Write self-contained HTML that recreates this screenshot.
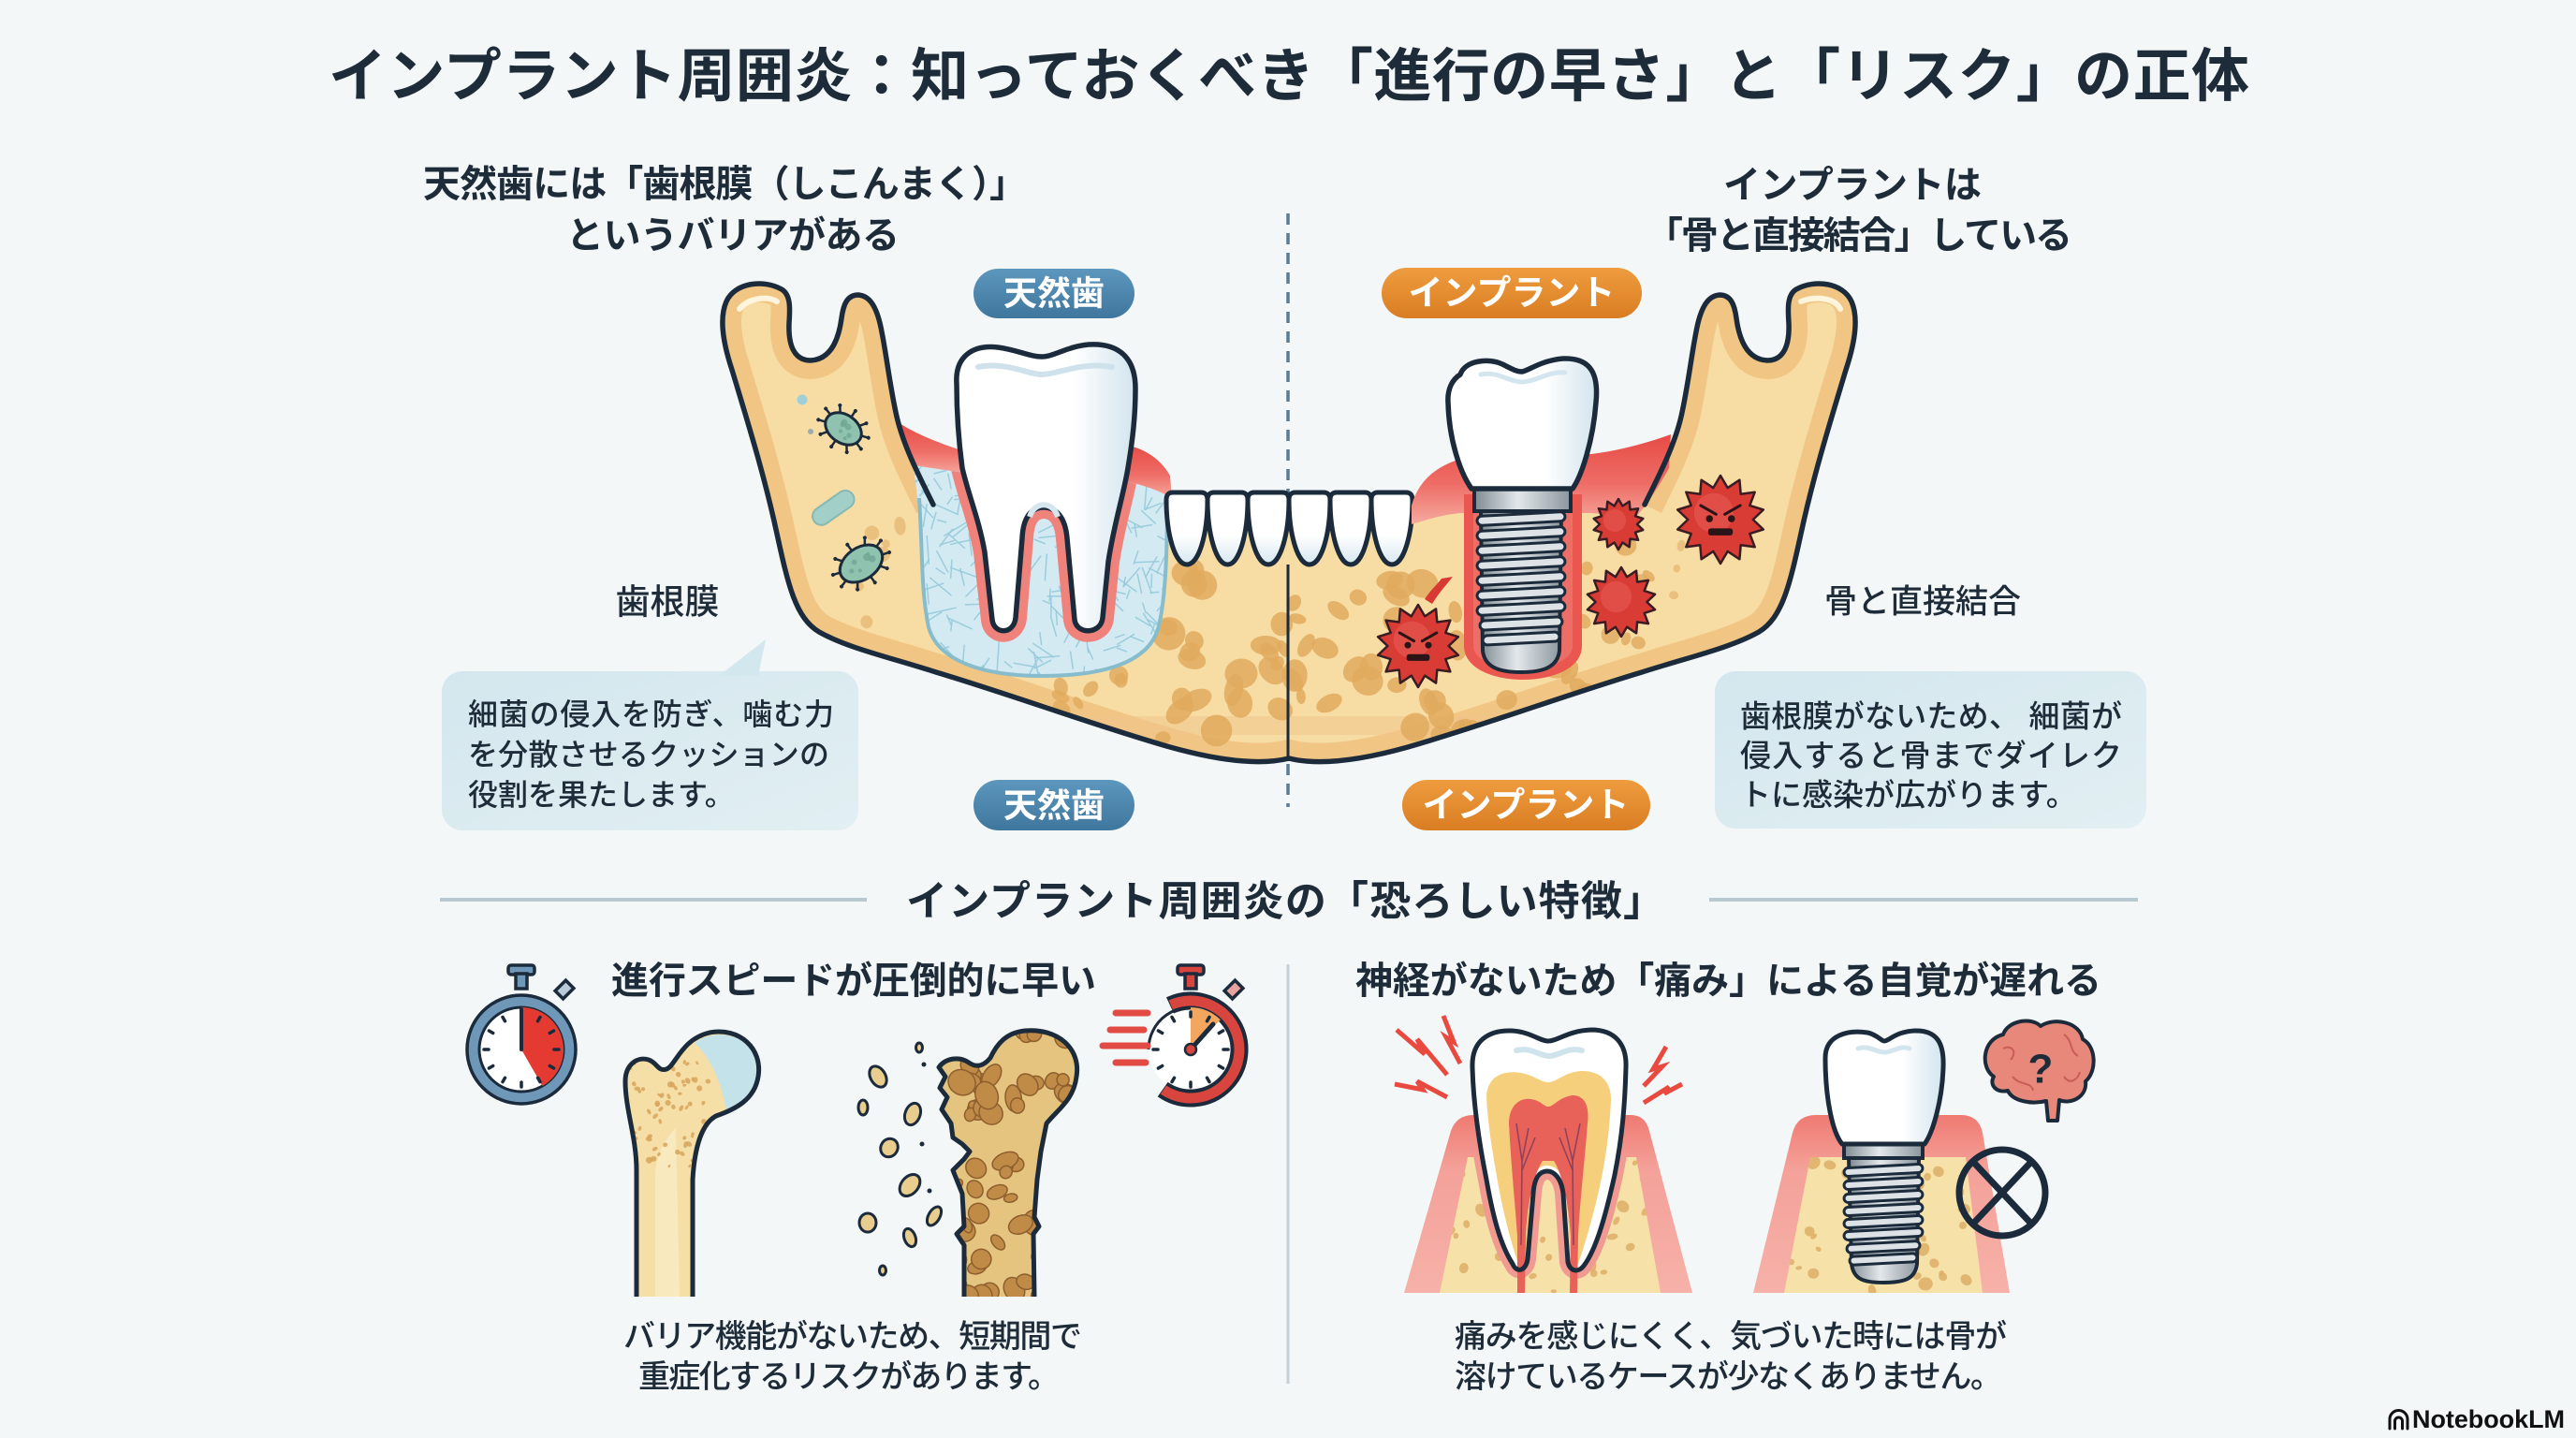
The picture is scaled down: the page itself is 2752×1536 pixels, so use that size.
<!DOCTYPE html>
<html><head><meta charset="utf-8">
<style>
html,body{margin:0;padding:0;background:#f3f7f8;}
svg{display:block;}
text{font-family:"Liberation Sans","Noto Sans CJK JP",sans-serif;fill:#1e2b38;}
</style></head><body>
<svg id="s" xmlns="http://www.w3.org/2000/svg" width="2752" height="1536" viewBox="0 0 2752 1536">
<defs>
<linearGradient id="pb" x1="0" y1="0" x2="0" y2="1"><stop offset="0" stop-color="#5d97bd"/><stop offset="1" stop-color="#3f769d"/></linearGradient>
<linearGradient id="po" x1="0" y1="0" x2="0" y2="1"><stop offset="0" stop-color="#ee9c3f"/><stop offset="1" stop-color="#da7d22"/></linearGradient>
<linearGradient id="cb" x1="0" y1="0" x2="1" y2="1"><stop offset="0" stop-color="#d3e7ee"/><stop offset="1" stop-color="#e2eff3"/></linearGradient>
<linearGradient id="tg" x1="0" y1="0" x2="1" y2="0"><stop offset="0" stop-color="#ffffff"/><stop offset="0.65" stop-color="#ffffff"/><stop offset="1" stop-color="#d3e4ee"/></linearGradient>
<linearGradient id="ft" x1="0" y1="0" x2="0" y2="1"><stop offset="0" stop-color="#ffffff"/><stop offset="0.6" stop-color="#ffffff"/><stop offset="1" stop-color="#d6e7f0"/></linearGradient>
<linearGradient id="metal" x1="0" y1="0" x2="1" y2="0"><stop offset="0" stop-color="#7f8a92"/><stop offset="0.45" stop-color="#e3e8eb"/><stop offset="1" stop-color="#8a959c"/></linearGradient>
<linearGradient id="gum" x1="0" y1="0" x2="0" y2="1"><stop offset="0" stop-color="#e84b46"/><stop offset="0.55" stop-color="#ee6d66"/><stop offset="1" stop-color="#f6aaa0"/></linearGradient>
<linearGradient id="pink" x1="0" y1="0" x2="0" y2="1"><stop offset="0" stop-color="#ef7a72"/><stop offset="0.3" stop-color="#f4a199"/><stop offset="1" stop-color="#f6b1a8"/></linearGradient>
<clipPath id="jawClip"><path d="M 997 539 C 980 505 965 475 958 445 C 950 410 946 370 940 345 C 935 325 928 316 917 315 C 905 315 901 325 899 340 C 896 362 888 384 866 385 C 848 385 842 368 843 345 C 844 330 845 315 835 309 C 815 298 785 302 776 322 C 768 340 773 368 782 395 C 797 445 816 505 830 570 C 842 625 850 660 875 675 C 905 692 950 702 1000 718 C 1080 742 1170 775 1250 798 C 1300 812 1345 818 1377 810 C 1409 818 1454 812 1504 798 C 1584 775 1674 742 1754 718 C 1804 702 1849 692 1879 675 C 1904 660 1912 625 1924 570 C 1938 505 1957 445 1972 395 C 1981 368 1986 340 1978 322 C 1969 302 1939 298 1919 309 C 1909 315 1910 330 1911 345 C 1912 368 1906 385 1888 385 C 1866 384 1858 362 1855 340 C 1853 325 1849 315 1837 315 C 1826 316 1819 325 1814 345 C 1808 370 1804 410 1796 445 C 1789 475 1774 505 1757 539 Z"/></clipPath>
<clipPath id="pdlClip"><path d="M 975 497 C 984 540 984 620 992 670 C 1002 706 1050 722 1113 722 C 1178 722 1226 708 1237 672 C 1246 640 1247 580 1247 528 C 1235 522 1220 518 1205 515 L 1030 505 Z"/></clipPath>
<clipPath id="natClip"><path d="M 1538 1381 L 1568 1236 L 1748 1236 L 1774 1381 Z"/></clipPath>
<clipPath id="impClip"><path d="M 1906 1381 L 1934 1236 L 2100 1236 L 2118 1381 Z"/></clipPath>
<clipPath id="femLClip"><path d="M 680 1385 L 680 1250 C 680 1215 668 1185 668 1155 C 668 1138 680 1128 693 1132 C 702 1135 703 1145 712 1142 C 722 1138 728 1110 758 1103 C 790 1097 815 1120 810 1150 C 806 1175 785 1185 765 1192 C 750 1200 742 1225 740 1260 L 740 1385 Z"/></clipPath>
<clipPath id="femRClip"><path d="M 1030 1385 L 1030 1330 L 1022 1318 L 1030 1310 L 1028 1275 L 1018 1250 L 1030 1238 L 1036 1230 L 1028 1222 L 1018 1215 L 1016 1200 L 1006 1185 L 1012 1172 L 1004 1162 L 1010 1150 L 1003 1140 C 1010 1130 1025 1128 1035 1135 C 1042 1140 1050 1140 1058 1130 C 1065 1115 1075 1103 1095 1101 C 1130 1098 1155 1120 1150 1150 C 1147 1175 1130 1185 1118 1200 L 1112 1230 L 1108 1260 L 1105 1300 L 1110 1310 L 1104 1318 L 1105 1385 Z"/></clipPath>
</defs>

<rect width="2752" height="1536" fill="#f3f7f8"/>

<!-- Title -->
<text x="351" y="82" font-size="62" font-weight="700" dominant-baseline="central" textLength="2052" lengthAdjust="spacing">インプラント周囲炎：知っておくべき「進行の早さ」と「リスク」の正体</text>

<!-- Headings -->
<text x="452" y="197" font-size="40" font-weight="700" dominant-baseline="central" textLength="645" lengthAdjust="spacing">天然歯には「歯根膜（しこんまく）」</text>
<text x="605" y="252" font-size="40" font-weight="700" dominant-baseline="central" textLength="356" lengthAdjust="spacing">というバリアがある</text>
<text x="1841" y="198" font-size="40" font-weight="700" dominant-baseline="central" textLength="276" lengthAdjust="spacing">インプラントは</text>
<text x="1758" y="252" font-size="40" font-weight="700" dominant-baseline="central" textLength="456" lengthAdjust="spacing">「骨と直接結合」している</text>

<!-- Dashed divider -->
<line x1="1376" y1="228" x2="1376" y2="862" stroke="#5b7c96" stroke-width="3.5" stroke-dasharray="12 9"/>

<!-- Pills -->
<rect x="1040" y="287" width="172" height="53" rx="26.5" fill="url(#pb)"/>
<text x="1126" y="313" font-size="36" font-weight="700" text-anchor="middle" dominant-baseline="central" style="fill:#fff">天然歯</text>
<rect x="1476" y="286" width="278" height="54" rx="27" fill="url(#po)"/>
<text x="1615" y="313" font-size="37" font-weight="700" text-anchor="middle" dominant-baseline="central" style="fill:#fff">インプラント</text>
<rect x="1040" y="833" width="172" height="54" rx="27" fill="url(#pb)"/>
<text x="1126" y="860" font-size="36" font-weight="700" text-anchor="middle" dominant-baseline="central" style="fill:#fff">天然歯</text>
<rect x="1498" y="833" width="265" height="54" rx="27" fill="url(#po)"/>
<text x="1630" y="860" font-size="37" font-weight="700" text-anchor="middle" dominant-baseline="central" style="fill:#fff">インプラント</text>

<!-- JAW -->
<g id="jaw">
  <path clip-path="url(#jawClip)" d="M0 0H2752V1536H0Z" fill="#f7dca3"/>
  <g clip-path="url(#jawClip)">
    <path d="M 997 539 C 980 505 965 475 958 445 C 950 410 946 370 940 345 C 935 325 928 316 917 315 C 905 315 901 325 899 340 C 896 362 888 384 866 385 C 848 385 842 368 843 345 C 844 330 845 315 835 309 C 815 298 785 302 776 322 C 768 340 773 368 782 395 C 797 445 816 505 830 570 C 842 625 850 660 875 675 C 905 692 950 702 1000 718 C 1080 742 1170 775 1250 798 C 1300 812 1345 818 1377 810 C 1409 818 1454 812 1504 798 C 1584 775 1674 742 1754 718 C 1804 702 1849 692 1879 675 C 1904 660 1912 625 1924 570 C 1938 505 1957 445 1972 395 C 1981 368 1986 340 1978 322 C 1969 302 1939 298 1919 309 C 1909 315 1910 330 1911 345 C 1912 368 1906 385 1888 385 C 1866 384 1858 362 1855 340 C 1853 325 1849 315 1837 315 C 1826 316 1819 325 1814 345 C 1808 370 1804 410 1796 445 C 1789 475 1774 505 1757 539" fill="none" stroke="#efbf79" stroke-width="40" opacity="0.75"/>
    <rect x="1000" y="765" width="760" height="20" fill="#efc48a" opacity="0.5"/>
    <g id="jawHoles"></g>
  </g>
  <circle cx="857" cy="427" r="5.5" fill="#9fd0da"/>
  <circle cx="866" cy="461" r="3" fill="#98aeb0"/>

  <path d="M 958 450 C 975 462 1000 472 1024 480 L 1030 508 C 1005 502 985 498 974 497 Z" fill="url(#gum)"/>
  <path d="M 975 497 C 984 540 984 620 992 670 C 1002 706 1050 722 1113 722 C 1178 722 1226 708 1237 672 C 1246 640 1247 580 1247 528 C 1235 522 1220 518 1205 515 L 1030 505 Z" fill="#d3eaf2"/>
  <g id="pdlHatch" clip-path="url(#pdlClip)"></g>
  <path d="M 982 532 C 986 600 984 630 992 670 C 1002 706 1050 722 1113 722 C 1178 722 1226 708 1237 672 C 1246 640 1247 580 1247 528" fill="none" stroke="#86bccb" stroke-width="4"/>
  <path d="M 1205 476 C 1222 479 1240 490 1250 508 L 1252 532 C 1238 524 1222 518 1205 515 Z" fill="url(#gum)"/>
  <g clip-path="url(#pdlClip)">
    <path d="M 1022 410 C 1020 380 1040 368 1066 371 C 1088 374 1100 381 1113 381 C 1126 381 1140 370 1163 368 C 1195 366 1213 382 1213 415 C 1213 445 1210 470 1205 500 C 1200 530 1190 560 1184 600 L 1178 660 C 1176 678 1150 678 1148 662 L 1140 575 C 1138 552 1128 542 1115 542 C 1102 542 1093 552 1092 575 L 1085 660 C 1083 678 1062 678 1060 662 L 1052 590 C 1046 555 1035 530 1028 500 C 1024 470 1022 440 1022 410 Z" fill="#e9f4f8" stroke="#ef837c" stroke-width="24"/>
  </g>
  <path d="M 1022 410 C 1020 380 1040 368 1066 371 C 1088 374 1100 381 1113 381 C 1126 381 1140 370 1163 368 C 1195 366 1213 382 1213 415 C 1213 445 1210 470 1205 500 C 1200 530 1190 560 1184 600 L 1178 660 C 1176 678 1150 678 1148 662 L 1140 575 C 1138 552 1128 542 1115 542 C 1102 542 1093 552 1092 575 L 1085 660 C 1083 678 1062 678 1060 662 L 1052 590 C 1046 555 1035 530 1028 500 C 1024 470 1022 440 1022 410 Z" fill="url(#tg)" stroke="#1c2b3b" stroke-width="5.5" stroke-linejoin="round"/>
  <path d="M 1045 392 C 1075 386 1098 400 1113 400 C 1130 400 1155 386 1188 392" fill="none" stroke="#cfe2ec" stroke-width="6" stroke-linecap="round"/>
  <path d="M 1100 552 C 1105 535 1125 535 1130 552" fill="none" stroke="#d5e6ee" stroke-width="6"/>

  <g fill="url(#ft)" stroke="#1c2b3b" stroke-width="5" stroke-linejoin="round">
    <path d="M 1253 526 H 1283 Q 1290 526 1290 534 C 1290 570 1281 603 1268 603 C 1255 603 1246 570 1246 534 Q 1246 526 1253 526 Z"/>
    <path d="M 1297 526 H 1326 Q 1333 526 1333 534 C 1333 570 1324 603 1311.5 603 C 1299 603 1290 570 1290 534 Q 1290 526 1297 526 Z"/>
    <path d="M 1340 526 H 1370 Q 1377 526 1377 534 C 1377 570 1368 603 1355 603 C 1342 603 1333 570 1333 534 Q 1333 526 1340 526 Z"/>
    <path d="M 1384 526 H 1414 Q 1421 526 1421 534 C 1421 570 1412 603 1399 603 C 1386 603 1377 570 1377 534 Q 1377 526 1384 526 Z"/>
    <path d="M 1428 526 H 1458 Q 1465 526 1465 534 C 1465 570 1456 603 1443 603 C 1430 603 1421 570 1421 534 Q 1421 526 1428 526 Z"/>
    <path d="M 1472 526 H 1502 Q 1509 526 1509 534 C 1509 570 1500 603 1487 603 C 1474 603 1465 570 1465 534 Q 1465 526 1472 526 Z"/>
  </g>
  <line x1="1376" y1="603" x2="1376" y2="812" stroke="#1c2b3b" stroke-width="3"/>

  <path d="M 1508 560 L 1508 540 C 1515 515 1532 500 1555 492 L 1700 485 C 1725 482 1755 475 1785 464 L 1783 500 C 1772 520 1760 538 1748 552 L 1700 548 L 1560 548 C 1540 550 1525 555 1508 560 Z" fill="url(#gum)"/>
  <path d="M 1564 528 L 1564 690 C 1564 738 1690 738 1690 690 L 1690 528 Z" fill="#ea5750"/>
  <path d="M 1574 540 L 1574 690 C 1574 722 1680 722 1680 690 L 1680 540 Z" fill="#ef7d74" opacity="0.6"/>
  <path d="M 1582 545 L 1668 545 L 1666 695 C 1664 712 1650 718 1625 718 C 1600 718 1586 712 1584 695 Z" fill="url(#metal)" stroke="#1c2b3b" stroke-width="4"/>
  <g id="threads1" fill="#dce2e6" stroke="#1c2b3b" stroke-width="3"></g>
  <rect x="1575" y="521" width="103" height="25" fill="url(#metal)" stroke="#1c2b3b" stroke-width="4"/>
  <path d="M 1560 400 C 1565 385 1590 382 1605 389 C 1615 394 1620 397 1626 397 C 1633 396 1646 385 1670 383 C 1700 382 1708 400 1705 430 C 1702 470 1690 508 1680 522 L 1572 522 C 1560 505 1548 470 1547 430 C 1546 415 1552 405 1560 400 Z" fill="url(#tg)" stroke="#1c2b3b" stroke-width="5.5" stroke-linejoin="round"/>
  <path d="M 1582 400 C 1600 396 1612 408 1626 408 C 1640 408 1655 396 1672 398" fill="none" stroke="#d3e5ee" stroke-width="5" stroke-linecap="round"/>

  <g id="stars"></g>
  <path d="M 1522 640 C 1530 628 1535 625 1540 618 L 1552 616 C 1545 625 1538 632 1530 645 Z" fill="#d83a33"/>
  <g id="green"></g>
  <rect x="865" y="533" width="50" height="19" rx="9.5" fill="#a3cfc9" stroke="#86b9b4" stroke-width="2" transform="rotate(-35 890 542)"/>

  <path d="M 997 539 C 980 505 965 475 958 445 C 950 410 946 370 940 345 C 935 325 928 316 917 315 C 905 315 901 325 899 340 C 896 362 888 384 866 385 C 848 385 842 368 843 345 C 844 330 845 315 835 309 C 815 298 785 302 776 322 C 768 340 773 368 782 395 C 797 445 816 505 830 570 C 842 625 850 660 875 675 C 905 692 950 702 1000 718 C 1080 742 1170 775 1250 798 C 1300 812 1345 818 1377 810 C 1409 818 1454 812 1504 798 C 1584 775 1674 742 1754 718 C 1804 702 1849 692 1879 675 C 1904 660 1912 625 1924 570 C 1938 505 1957 445 1972 395 C 1981 368 1986 340 1978 322 C 1969 302 1939 298 1919 309 C 1909 315 1910 330 1911 345 C 1912 368 1906 385 1888 385 C 1866 384 1858 362 1855 340 C 1853 325 1849 315 1837 315 C 1826 316 1819 325 1814 345 C 1808 370 1804 410 1796 445 C 1789 475 1774 505 1757 539" fill="none" stroke="#1c2b3b" stroke-width="5.5" stroke-linecap="round" stroke-linejoin="round"/>
  <path d="M 790 330 C 800 318 820 316 830 322" fill="none" stroke="#fff4dc" stroke-width="6" stroke-linecap="round"/>
  <path d="M 1924 322 C 1940 316 1960 318 1966 330" fill="none" stroke="#fff4dc" stroke-width="6" stroke-linecap="round"/>
</g>

<!-- Labels -->
<text x="713" y="643" font-size="37" font-weight="500" text-anchor="middle" dominant-baseline="central">歯根膜</text>
<text x="2054" y="643" font-size="35" font-weight="500" text-anchor="middle" dominant-baseline="central">骨と直接結合</text>

<!-- Callouts -->
<rect x="472" y="717" width="445" height="170" rx="22" fill="url(#cb)"/>
<polygon points="768,722 810,722 818,683" fill="#d3e7ee"/>
<text x="500" y="763" font-size="32" font-weight="500" dominant-baseline="central" textLength="391" lengthAdjust="spacing">細菌の侵入を防ぎ、噛む力</text>
<text x="500" y="806" font-size="32" font-weight="500" dominant-baseline="central" textLength="386" lengthAdjust="spacing">を分散させるクッションの</text>
<text x="500" y="849" font-size="32" font-weight="500" dominant-baseline="central">役割を果たします。</text>

<rect x="1832" y="717" width="461" height="168" rx="22" fill="url(#cb)"/>
<text x="1859" y="765" font-size="33" font-weight="500" dominant-baseline="central" textLength="408" lengthAdjust="spacing">歯根膜がないため、 細菌が</text>
<text x="1859" y="807" font-size="33" font-weight="500" dominant-baseline="central" textLength="408" lengthAdjust="spacing">侵入すると骨までダイレク</text>
<text x="1859" y="849" font-size="33" font-weight="500" dominant-baseline="central">トに感染が広がります。</text>

<!-- Section divider -->
<line x1="470" y1="961" x2="926" y2="961" stroke="#b9c9d1" stroke-width="4"/>
<line x1="1826" y1="961" x2="2284" y2="961" stroke="#b9c9d1" stroke-width="4"/>
<text x="968" y="963" font-size="44" font-weight="700" dominant-baseline="central" textLength="810" lengthAdjust="spacing">インプラント周囲炎の「恐ろしい特徴」</text>
<line x1="1376" y1="1030" x2="1376" y2="1478" stroke="#c5d0d6" stroke-width="3"/>

<!-- Sub headings -->
<text x="653" y="1048" font-size="40" font-weight="700" dominant-baseline="central" textLength="518" lengthAdjust="spacing">進行スピードが圧倒的に早い</text>
<text x="1448" y="1048" font-size="40" font-weight="700" dominant-baseline="central" textLength="797" lengthAdjust="spacing">神経がないため「痛み」による自覚が遅れる</text>

<!-- Left stopwatch -->
<g stroke="#1c2b3b" stroke-width="3.5">
  <rect x="543" y="1031" width="28" height="10" rx="3" fill="#6f98b8"/>
  <rect x="551" y="1040" width="12" height="16" fill="#6f98b8"/>
  <rect x="597" y="1049" width="12" height="16" fill="#b9cbd8" transform="rotate(45 603 1057)"/>
  <circle cx="557" cy="1121" r="58" fill="#6f98b8"/>
  <circle cx="557" cy="1121" r="45" fill="#fff" stroke-width="3"/>
</g>
<path d="M 557 1121 L 557 1076 A 45 45 0 0 1 579.5 1160 Z" fill="#e43a31"/>
<g id="ticksL" stroke="#1c2b3b" stroke-width="3.5" stroke-linecap="round"></g>
<line x1="557" y1="1121" x2="557" y2="1078" stroke="#1c2b3b" stroke-width="4" stroke-linecap="round"/>

<!-- Right stopwatch -->
<g stroke="#1c2b3b" stroke-width="3.5">
  <rect x="1258" y="1031" width="28" height="10" rx="3" fill="#d8453e"/>
  <rect x="1266" y="1040" width="12" height="16" fill="#d8453e"/>
  <rect x="1312" y="1049" width="12" height="16" fill="#e9a39e" transform="rotate(45 1318 1057)"/>
</g>
<circle cx="1272" cy="1121" r="45" fill="#fff"/>
<path id="arcR" d="" fill="none" stroke="#1c2b3b" stroke-width="19" stroke-linecap="butt"/>
<path id="arcR2" d="" fill="none" stroke="#d8453e" stroke-width="11"/>
<path id="arcR3" d="" fill="none" stroke="#1c2b3b" stroke-width="3"/>
<path d="M 1272 1121 L 1272 1076 A 45 45 0 0 1 1303.8 1089.2 Z" fill="#f2a65e"/>
<g id="ticksR" stroke="#1c2b3b" stroke-width="3.5" stroke-linecap="round"></g>
<line x1="1272" y1="1121" x2="1296" y2="1094" stroke="#1c2b3b" stroke-width="5" stroke-linecap="round"/>
<circle cx="1272" cy="1121" r="6" fill="#d8453e" stroke="#1c2b3b" stroke-width="2.5"/>
<g stroke="#e14b43" stroke-width="7" stroke-linecap="round">
  <line x1="1192" y1="1082" x2="1226" y2="1082"/>
  <line x1="1186" y1="1100" x2="1222" y2="1100"/>
  <line x1="1178" y1="1117" x2="1226" y2="1117"/>
  <line x1="1192" y1="1135" x2="1224" y2="1135"/>
</g>

<!-- Left femur -->
<path d="M 680 1385 L 680 1250 C 680 1215 668 1185 668 1155 C 668 1138 680 1128 693 1132 C 702 1135 703 1145 712 1142 C 722 1138 728 1110 758 1103 C 790 1097 815 1120 810 1150 C 806 1175 785 1185 765 1192 C 750 1200 742 1225 740 1260 L 740 1385 Z" fill="#f5dfa7"/>
<path d="M 700 1385 L 700 1260 C 700 1230 712 1215 722 1205 L 726 1385 Z" fill="#f9ebc6" opacity="0.8"/>
<g id="femL" clip-path="url(#femLClip)"></g>
<path d="M 742 1114 C 762 1099 800 1102 810 1135 C 813 1160 800 1180 776 1188 C 772 1160 760 1130 742 1114 Z" fill="#c4e2ea"/>
<path d="M 680 1385 L 680 1250 C 680 1215 668 1185 668 1155 C 668 1138 680 1128 693 1132 C 702 1135 703 1145 712 1142 C 722 1138 728 1110 758 1103 C 790 1097 815 1120 810 1150 C 806 1175 785 1185 765 1192 C 750 1200 742 1225 740 1260 L 740 1385" fill="none" stroke="#1c2b3b" stroke-width="5" stroke-linejoin="round"/>

<!-- Right femur -->
<path d="M 1030 1385 L 1030 1330 L 1022 1318 L 1030 1310 L 1028 1275 L 1018 1250 L 1030 1238 L 1036 1230 L 1028 1222 L 1018 1215 L 1016 1200 L 1006 1185 L 1012 1172 L 1004 1162 L 1010 1150 L 1003 1140 C 1010 1130 1025 1128 1035 1135 C 1042 1140 1050 1140 1058 1130 C 1065 1115 1075 1103 1095 1101 C 1130 1098 1155 1120 1150 1150 C 1147 1175 1130 1185 1118 1200 L 1112 1230 L 1108 1260 L 1105 1300 L 1110 1310 L 1104 1318 L 1105 1385 Z" fill="#e4c47f"/>
<g id="femR" clip-path="url(#femRClip)"></g>
<path d="M 1030 1385 L 1030 1330 L 1022 1318 L 1030 1310 L 1028 1275 L 1018 1250 L 1030 1238 L 1036 1230 L 1028 1222 L 1018 1215 L 1016 1200 L 1006 1185 L 1012 1172 L 1004 1162 L 1010 1150 L 1003 1140 C 1010 1130 1025 1128 1035 1135 C 1042 1140 1050 1140 1058 1130 C 1065 1115 1075 1103 1095 1101 C 1130 1098 1155 1120 1150 1150 C 1147 1175 1130 1185 1118 1200 L 1112 1230 L 1108 1260 L 1105 1300 L 1110 1310 L 1104 1318 L 1105 1385" fill="none" stroke="#1c2b3b" stroke-width="5" stroke-linejoin="round"/>
<g fill="#e9cd8e" stroke="#1c2b3b" stroke-width="3">
  <ellipse cx="938" cy="1150" rx="8" ry="12" transform="rotate(-30 938 1150)"/>
  <ellipse cx="922" cy="1183" rx="5" ry="8"/>
  <ellipse cx="975" cy="1190" rx="8" ry="12" transform="rotate(20 975 1190)"/>
  <ellipse cx="950" cy="1226" rx="9" ry="10" transform="rotate(30 950 1226)"/>
  <ellipse cx="972" cy="1266" rx="9" ry="13" transform="rotate(40 972 1266)"/>
  <ellipse cx="927" cy="1306" rx="9" ry="10"/>
  <ellipse cx="998" cy="1299" rx="6" ry="11" transform="rotate(30 998 1299)"/>
  <ellipse cx="972" cy="1322" rx="6" ry="10" transform="rotate(-20 972 1322)"/>
  <ellipse cx="943" cy="1357" rx="3.5" ry="5"/>
  <ellipse cx="982" cy="1119" rx="3.5" ry="5"/>
</g>
<g fill="#1c2b3b"><circle cx="985" cy="1222" r="2.5"/><circle cx="993" cy="1272" r="2.5"/><circle cx="987" cy="1137" r="2.5"/></g>

<!-- Natural tooth scene -->
<path d="M 1500 1381 L 1550 1208 Q 1556 1191 1574 1191 L 1742 1191 Q 1758 1191 1762 1208 L 1808 1381 Z" fill="url(#pink)"/>
<path d="M 1538 1381 L 1568 1236 L 1748 1236 L 1774 1381 Z" fill="#f6e1a9"/>
<g id="natHoles" clip-path="url(#natClip)"></g>
<g clip-path="url(#natClip)">
<path d="M 1573 1140 C 1572 1112 1590 1100 1615 1101 C 1635 1102 1645 1112 1654 1112 C 1664 1112 1675 1101 1700 1100 C 1725 1100 1738 1115 1737 1140 C 1736 1180 1733 1215 1725 1255 C 1715 1300 1705 1335 1692 1352 C 1686 1360 1677 1358 1675 1348 L 1670 1275 C 1668 1258 1660 1251 1653 1251 C 1645 1251 1639 1258 1638 1275 L 1632 1345 C 1630 1358 1620 1360 1616 1350 C 1603 1330 1595 1300 1588 1260 C 1580 1220 1574 1180 1573 1140 Z" fill="none" stroke="#f19a92" stroke-width="18"/>
</g>
<path d="M 1573 1140 C 1572 1112 1590 1100 1615 1101 C 1635 1102 1645 1112 1654 1112 C 1664 1112 1675 1101 1700 1100 C 1725 1100 1738 1115 1737 1140 C 1736 1180 1733 1215 1725 1255 C 1715 1300 1705 1335 1692 1352 C 1686 1360 1677 1358 1675 1348 L 1670 1275 C 1668 1258 1660 1251 1653 1251 C 1645 1251 1639 1258 1638 1275 L 1632 1345 C 1630 1358 1620 1360 1616 1350 C 1603 1330 1595 1300 1588 1260 C 1580 1220 1574 1180 1573 1140 Z" fill="#ffffff"/>
<path d="M 1588 1170 C 1590 1148 1608 1143 1625 1146 C 1640 1149 1646 1156 1654 1156 C 1663 1156 1670 1146 1688 1144 C 1710 1143 1722 1156 1721 1176 C 1719 1220 1712 1260 1701 1300 C 1696 1320 1690 1338 1686 1350 L 1678 1350 L 1673 1275 C 1671 1254 1663 1245 1653 1245 C 1643 1245 1636 1254 1635 1275 L 1630 1350 L 1622 1350 C 1612 1320 1605 1290 1600 1262 C 1594 1228 1589 1198 1588 1170 Z" fill="#f6cf7c"/>
<path d="M 1612 1200 C 1612 1180 1625 1170 1640 1175 C 1648 1178 1650 1182 1654 1182 C 1660 1182 1665 1172 1680 1170 C 1695 1170 1698 1185 1696 1200 C 1693 1240 1688 1280 1686 1320 L 1685 1381 L 1677 1381 L 1678 1320 C 1676 1290 1670 1255 1660 1240 L 1648 1240 C 1638 1255 1631 1290 1630 1320 L 1629 1381 L 1621 1381 L 1621 1320 C 1618 1280 1614 1240 1612 1200 Z" fill="#e9625a"/>
<g stroke="#7a3a5a" stroke-width="1.6" fill="none" opacity="0.8">
  <path d="M 1625 1330 L 1626 1240 L 1620 1200 M 1626 1240 L 1633 1205 M 1626 1250 L 1640 1215"/>
  <path d="M 1681 1330 L 1680 1240 L 1688 1200 M 1680 1240 L 1672 1205 M 1680 1250 L 1666 1215"/>
</g>
<path d="M 1573 1140 C 1572 1112 1590 1100 1615 1101 C 1635 1102 1645 1112 1654 1112 C 1664 1112 1675 1101 1700 1100 C 1725 1100 1738 1115 1737 1140 C 1736 1180 1733 1215 1725 1255 C 1715 1300 1705 1335 1692 1352 C 1686 1360 1677 1358 1675 1348 L 1670 1275 C 1668 1258 1660 1251 1653 1251 C 1645 1251 1639 1258 1638 1275 L 1632 1345 C 1630 1358 1620 1360 1616 1350 C 1603 1330 1595 1300 1588 1260 C 1580 1220 1574 1180 1573 1140 Z" fill="none" stroke="#1c2b3b" stroke-width="5" stroke-linejoin="round"/>
<path d="M 1620 1122 C 1635 1118 1645 1128 1655 1128 C 1665 1128 1675 1118 1690 1122" fill="none" stroke="#cfe3ec" stroke-width="6" stroke-linecap="round"/>
<g fill="none" stroke="#e94a40" stroke-width="5" stroke-linejoin="miter">
  <polyline points="1492,1100 1522,1126 1514,1110 1546,1148"/>
  <polyline points="1542,1085 1553,1113 1545,1108 1560,1136"/>
  <polyline points="1490,1158 1520,1164 1514,1155 1546,1172"/>
  <polyline points="1780,1118 1766,1142 1776,1139 1756,1160"/>
  <polyline points="1797,1158 1778,1168 1783,1161 1756,1178"/>
</g>

<!-- Implant scene -->
<path d="M 1873 1381 L 1915 1210 Q 1920 1191 1940 1191 L 2095 1191 Q 2114 1191 2118 1210 L 2147 1381 Z" fill="url(#pink)"/>
<path d="M 1906 1381 L 1934 1236 L 2100 1236 L 2118 1381 Z" fill="#f6e1a9"/>
<g id="impHoles" clip-path="url(#impClip)"></g>
<path d="M 1975 1236 L 2050 1236 L 2048 1350 C 2046 1366 2035 1370 2012 1370 C 1990 1370 1980 1366 1978 1350 Z" fill="url(#metal)" stroke="#1c2b3b" stroke-width="4"/>
<g id="threads2" fill="#dce2e6" stroke="#1c2b3b" stroke-width="3"></g>
<rect x="1970" y="1220" width="84" height="17" fill="url(#metal)" stroke="#1c2b3b" stroke-width="4"/>
<path d="M 1950 1130 C 1950 1105 1975 1100 1995 1103 C 2005 1105 2010 1112 2013 1112 C 2018 1112 2025 1102 2045 1101 C 2070 1100 2077 1115 2076 1140 C 2075 1175 2065 1210 2056 1222 L 1968 1222 C 1958 1210 1950 1175 1950 1130 Z" fill="url(#tg)" stroke="#1c2b3b" stroke-width="5" stroke-linejoin="round"/>
<path d="M 1985 1120 C 1995 1116 2005 1124 2013 1124 C 2022 1124 2030 1116 2040 1120" fill="none" stroke="#d3e5ee" stroke-width="5" stroke-linecap="round"/>
<circle cx="2139" cy="1274" r="46" fill="none" stroke="#1c2b3b" stroke-width="7"/>
<g stroke="#1c2b3b" stroke-width="7" stroke-linecap="round"><line x1="2108" y1="1241" x2="2170" y2="1307"/><line x1="2170" y1="1241" x2="2108" y2="1307"/></g>
<path d="M 2130 1150 C 2115 1140 2118 1110 2140 1105 C 2145 1090 2170 1086 2180 1096 C 2195 1086 2222 1092 2225 1110 C 2240 1118 2240 1145 2228 1155 C 2230 1172 2212 1180 2200 1175 L 2198 1197 L 2188 1197 L 2186 1176 C 2170 1180 2150 1176 2145 1165 C 2132 1168 2125 1158 2130 1150 Z" fill="#e8887b" stroke="#1c2b3b" stroke-width="4" stroke-linejoin="round"/>
<g fill="none" stroke="#c75e56" stroke-width="2"><path d="M 2140 1120 C 2150 1115 2155 1125 2148 1132 M 2205 1105 C 2215 1112 2210 1122 2220 1128 M 2150 1150 C 2158 1160 2170 1155 2172 1165 M 2205 1150 C 2212 1160 2220 1152 2222 1145"/></g>
<text x="2180" y="1142" font-size="44" font-weight="700" text-anchor="middle" dominant-baseline="central">?</text>

<!-- Bottom texts -->
<text x="666" y="1428" font-size="34" font-weight="500" dominant-baseline="central" textLength="490" lengthAdjust="spacing">バリア機能がないため、短期間で</text>
<text x="682" y="1471" font-size="34" font-weight="500" dominant-baseline="central" textLength="450" lengthAdjust="spacing">重症化するリスクがあります。</text>
<text x="1554" y="1428" font-size="34" font-weight="500" dominant-baseline="central" textLength="590" lengthAdjust="spacing">痛みを感じにくく、気づいた時には骨が</text>
<text x="1554" y="1471" font-size="34" font-weight="500" dominant-baseline="central" textLength="585" lengthAdjust="spacing">溶けているケースが少なくありません。</text>

<!-- NotebookLM -->
<g fill="none" stroke="#111" stroke-width="3" stroke-linecap="round">
  <path d="M 2553 1526 L 2553 1516 A 9.5 9.5 0 0 1 2572 1516 L 2572 1526"/>
  <path d="M 2558.5 1526 L 2558.5 1518 A 4 4 0 0 1 2566.5 1518 L 2566.5 1526"/>
</g>
<text x="2577" y="1516" font-size="27" font-weight="700" dominant-baseline="central" textLength="163" lengthAdjust="spacing" style="fill:#111">NotebookLM</text>
</svg>

<script>
(function(){
const NS='http://www.w3.org/2000/svg';
function el(p,t,a){const e=document.createElementNS(NS,t);for(const k in a)e.setAttribute(k,a[k]);p.appendChild(e);return e;}
let seed=12345;
function rnd(){seed|=0;seed=seed+0x6D2B79F5|0;let t=Math.imul(seed^seed>>>15,1|seed);t=t+Math.imul(t^t>>>7,61|t)^t;return((t^t>>>14)>>>0)/4294967296;}
function holes(g,x0,y0,x1,y1,n,rmin,rmax,fill,op,stroke){
  for(let i=0;i<n;i++){const cx=x0+rnd()*(x1-x0),cy=y0+rnd()*(y1-y0);const rx=rmin+rnd()*(rmax-rmin),ry=rx*(0.55+rnd()*0.45);
  const a={cx:cx.toFixed(1),cy:cy.toFixed(1),rx:rx.toFixed(1),ry:ry.toFixed(1),fill:fill,opacity:op,transform:'rotate('+(rnd()*180).toFixed(0)+' '+cx.toFixed(1)+' '+cy.toFixed(1)+')'};
  if(stroke){a.stroke=stroke;a['stroke-width']=1.5;}el(g,'ellipse',a);}
}
const jh=document.getElementById('jawHoles');
holes(jh,1238,612,1372,790,24,8,18,'#e0aa5e',0.85);
holes(jh,1382,612,1565,790,28,8,18,'#e0aa5e',0.85);
holes(jh,1560,705,1700,785,9,7,14,'#e0aa5e',0.85);
holes(jh,1690,520,1775,705,11,6,13,'#e0aa5e',0.8);
holes(jh,1120,700,1240,775,7,6,12,'#e0aa5e',0.8);
holes(jh,895,560,975,690,7,4,10,'#e6b771',0.75);
holes(jh,1770,500,1800,640,3,4,8,'#e6b771',0.75);
const ph=document.getElementById('pdlHatch');
for(let i=0;i<220;i++){const x=975+rnd()*275,y=495+rnd()*230;const a=rnd()*Math.PI,l=10+rnd()*22;
 el(ph,'line',{x1:x.toFixed(1),y1:y.toFixed(1),x2:(x+l*Math.cos(a)).toFixed(1),y2:(y+l*Math.sin(a)).toFixed(1),stroke:'#96cadb','stroke-width':1.5,opacity:0.9});}
function star(cx,cy,R,n,k){let d='';for(let i=0;i<2*n;i++){const a=Math.PI*i/n-Math.PI/2;const r=i%2?R*k:R;d+=(i?'L':'M')+(cx+r*Math.cos(a)).toFixed(1)+' '+(cy+r*Math.sin(a)).toFixed(1);}return d+'Z';}
const st=document.getElementById('stars');
function bug(cx,cy,R,face){
 el(st,'path',{d:star(cx,cy,R,14,0.74),fill:'#d93b35',stroke:'#3a1d22','stroke-width':2.5,'stroke-linejoin':'round'});
 el(st,'circle',{cx:cx-R*0.15,cy:cy-R*0.15,r:R*0.45,fill:'#e8625a',opacity:0.5});
 if(face){
  el(st,'line',{x1:cx-R*0.45,y1:cy-R*0.32,x2:cx-R*0.1,y2:cy-R*0.12,stroke:'#2a1418','stroke-width':3,'stroke-linecap':'round'});
  el(st,'line',{x1:cx+R*0.45,y1:cy-R*0.32,x2:cx+R*0.1,y2:cy-R*0.12,stroke:'#2a1418','stroke-width':3,'stroke-linecap':'round'});
  el(st,'circle',{cx:cx-R*0.25,cy:cy-R*0.02,r:R*0.08,fill:'#2a1418'});
  el(st,'circle',{cx:cx+R*0.25,cy:cy-R*0.02,r:R*0.08,fill:'#2a1418'});
  el(st,'rect',{x:cx-R*0.28,y:cy+R*0.2,width:R*0.56,height:R*0.16,rx:R*0.06,fill:'#2a1418'});
 }
}
bug(1729,560,27,false);
bug(1838,555,47,true);
bug(1732,643,37,false);
bug(1515,690,44,true);
const gr=document.getElementById('green');
function gbug(cx,cy,rx,ry,rot){
 const g=el(gr,'g',{transform:'rotate('+rot+' '+cx+' '+cy+')'});
 for(let i=0;i<10;i++){const a=i*Math.PI/5+0.3;const x1=cx+rx*Math.cos(a),y1=cy+ry*Math.sin(a),x2=cx+(rx+8)*Math.cos(a),y2=cy+(ry+8)*Math.sin(a);
  el(g,'line',{x1:x1,y1:y1,x2:x2,y2:y2,stroke:'#1c2b3b','stroke-width':2.5});el(g,'circle',{cx:x2,cy:y2,r:2,fill:'#1c2b3b'});}
 el(g,'ellipse',{cx:cx,cy:cy,rx:rx,ry:ry,fill:'#8fc3b0',stroke:'#1c2b3b','stroke-width':3});
 for(let i=0;i<6;i++){el(g,'circle',{cx:cx+(rnd()-0.5)*rx*1.2,cy:cy+(rnd()-0.5)*ry*1.1,r:2+rnd()*2,fill:'#6fa693',opacity:0.8});}
}
gbug(901,458,21,15,35);
gbug(920,602,25,17,-35);
const t1=document.getElementById('threads1');
[554,570,586,602,618,634,650,666,682].forEach(function(y,i){const w=94-(i>6?(i-6)*6:0);el(t1,'rect',{x:1625-w/2,y:y-5,width:w,height:10,rx:5,transform:'rotate(-3 1625 '+y+')'});});
const t2=document.getElementById('threads2');
[1250,1264,1278,1292,1305,1318,1332,1345].forEach(function(y,i){const w=84-(i>5?(i-5)*6:0);el(t2,'rect',{x:2012-w/2,y:y-4.5,width:w,height:9,rx:4.5,transform:'rotate(-3 2012 '+y+')'});});
function ticks(id,cx,cy){const g=document.getElementById(id);for(let i=0;i<12;i++){const a=i*Math.PI/6;const s=Math.sin(a),c=-Math.cos(a);
 el(g,'line',{x1:(cx+35*s).toFixed(1),y1:(cy+35*c).toFixed(1),x2:(cx+40*s).toFixed(1),y2:(cy+40*c).toFixed(1)});}}
ticks('ticksL',557,1121);ticks('ticksR',1272,1121);
function arc(cx,cy,r,a0,a1){const p=function(a){return [(cx+r*Math.sin(a*Math.PI/180)).toFixed(1),(cy-r*Math.cos(a*Math.PI/180)).toFixed(1)];};
 const s=p(a0),e=p(a1);const large=((a1-a0)%360)>180?1:0;return 'M '+s[0]+' '+s[1]+' A '+r+' '+r+' 0 '+large+' 1 '+e[0]+' '+e[1];}
document.getElementById('arcR').setAttribute('d',arc(1272,1121,52,-25,215));
document.getElementById('arcR2').setAttribute('d',arc(1272,1121,52,-24,214));
document.getElementById('arcR3').setAttribute('d',arc(1272,1121,45,-90,20));
const fl=document.getElementById('femL');
holes(fl,672,1128,760,1250,70,1.8,3.6,'#d7a45b',0.85);
const fr=document.getElementById('femR');
holes(fr,1005,1098,1158,1390,75,6,15,'#bf8b47',1,'#8e5f2e');
holes(document.getElementById('natHoles'),1540,1240,1775,1380,40,3,8,'#dcae66',0.85);
holes(document.getElementById('impHoles'),1906,1240,2120,1380,38,3,8,'#dcae66',0.85);
})();
</script>
</body></html>
